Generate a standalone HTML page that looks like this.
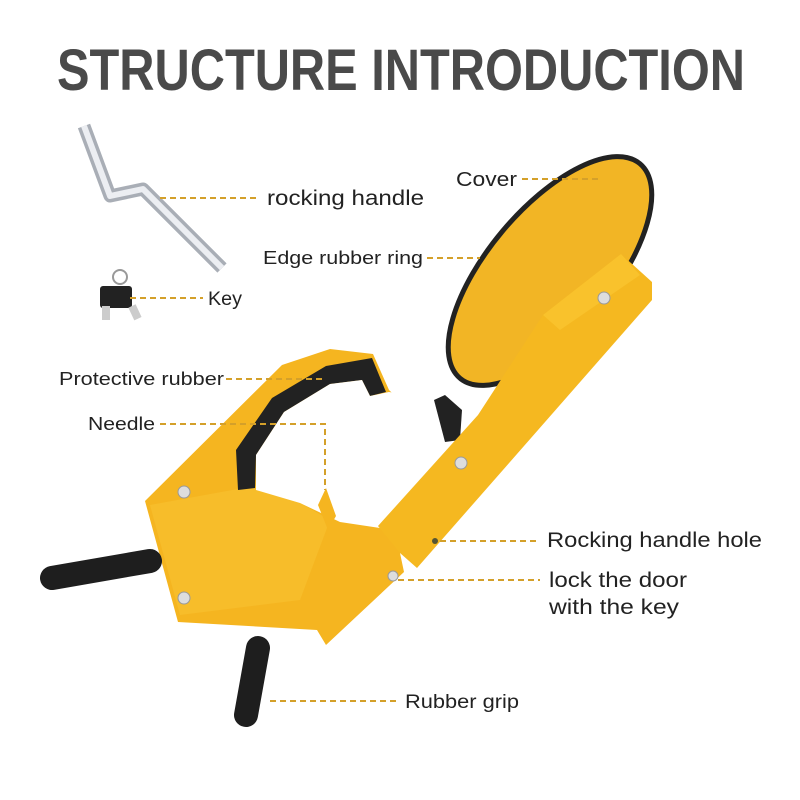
<!DOCTYPE html>
<html><head><meta charset="utf-8"><style>html,body{margin:0;padding:0;background:#fff}svg{display:block}</style></head>
<body>
<svg width="800" height="800" viewBox="0 0 800 800" xmlns="http://www.w3.org/2000/svg" font-family="Liberation Sans, sans-serif">
<rect width="800" height="800" fill="#fff"/>
<text x="57" y="90" font-size="58" font-weight="bold" fill="#4a4a4a" textLength="688" lengthAdjust="spacingAndGlyphs">STRUCTURE INTRODUCTION</text>

<!-- handle -->
<path d="M84 126 L110 196 L143 189 L222 268" fill="none" stroke="#a9aeb6" stroke-width="13" stroke-linejoin="round"/>
<path d="M84 126 L110 196 L143 189 L222 268" fill="none" stroke="#eceef2" stroke-width="6" stroke-linejoin="round"/>
<!-- keys -->
<circle cx="120" cy="277" r="7" fill="none" stroke="#999" stroke-width="2"/>
<rect x="100" y="286" width="32" height="22" rx="3" fill="#222"/>
<rect x="102" y="306" width="8" height="14" fill="#ccc"/>
<rect x="128" y="306" width="8" height="14" fill="#ccc" transform="rotate(-25 132 306)"/>

<!-- cover -->
<ellipse cx="550" cy="271" rx="62" ry="140" transform="rotate(40 550 271)" fill="#f2b525" stroke="#222" stroke-width="5"/>

<!-- clamp -->
<polygon points="145,501 282,365 330,349 373,354 389,390 420,420 400,553 404,572 326,645 317,630 178,622" fill="#f5b520"/>
<polygon points="150,505 260,485 300,503 330,520 300,600 180,615" fill="#f7bd2a"/>
<!-- black band -->
<polygon points="236,450 272,398 326,366 372,358 386,392 370,396 362,380 330,384 284,412 256,455 255,488 238,490" fill="#222"/>
<!-- hole -->
<polygon points="256,455 284,412 330,384 362,380 370,396 389,392 440,400 476,418 380,528 340,522 300,503 256,490" fill="#fff"/>
<!-- needle -->
<polygon points="318,505 326,488 336,516 328,530" fill="#f5b520"/>
<!-- small black part -->
<polygon points="434,400 445,395 462,410 460,440 445,442" fill="#222"/>
<!-- arm -->
<polygon points="378,526 478,415 543,315 621,254 652,282 652,300 417,568 400,553" fill="#f5b820"/>
<polygon points="543,315 621,254 640,275 560,330" fill="#f9c22c"/>

<!-- rivets -->
<g fill="#ddd" stroke="#999" stroke-width="1">
<circle cx="184" cy="492" r="6"/><circle cx="184" cy="598" r="6"/>
<circle cx="461" cy="463" r="6"/><circle cx="604" cy="298" r="6"/><circle cx="393" cy="576" r="5"/>
</g>
<circle cx="435" cy="541" r="3" fill="#553"/>

<!-- grips -->
<line x1="52" y1="578" x2="150" y2="561" stroke="#1e1e1e" stroke-width="24" stroke-linecap="round"/>
<line x1="258" y1="648" x2="246" y2="715" stroke="#1e1e1e" stroke-width="24" stroke-linecap="round"/>

<!-- leader lines -->
<g stroke="#d4a02a" stroke-width="2" stroke-dasharray="6,4" fill="none">
<line x1="160" y1="198" x2="260" y2="198"/>
<line x1="522" y1="179" x2="600" y2="179"/>
<line x1="427" y1="258" x2="480" y2="258"/>
<line x1="130" y1="298" x2="203" y2="298"/>
<line x1="226" y1="379" x2="325" y2="379"/>
<polyline points="160,424 325,424 325,490"/>
<line x1="440" y1="541" x2="540" y2="541"/>
<line x1="398" y1="580" x2="540" y2="580"/>
<line x1="270" y1="701" x2="400" y2="701"/>
</g>

<g fill="#222">
<text x="267" y="205" font-size="21" textLength="157" lengthAdjust="spacingAndGlyphs">rocking handle</text>
<text x="456" y="186" font-size="20" textLength="61" lengthAdjust="spacingAndGlyphs">Cover</text>
<text x="263" y="264" font-size="18" textLength="160" lengthAdjust="spacingAndGlyphs">Edge rubber ring</text>
<text x="208" y="305" font-size="19" textLength="34" lengthAdjust="spacingAndGlyphs">Key</text>
<text x="59" y="385" font-size="18" textLength="165" lengthAdjust="spacingAndGlyphs">Protective rubber</text>
<text x="88" y="430" font-size="18" textLength="67" lengthAdjust="spacingAndGlyphs">Needle</text>
<text x="547" y="547" font-size="21" textLength="215" lengthAdjust="spacingAndGlyphs">Rocking handle hole</text>
<text x="549" y="587" font-size="21" textLength="138" lengthAdjust="spacingAndGlyphs">lock the door</text>
<text x="549" y="614" font-size="21" textLength="130" lengthAdjust="spacingAndGlyphs">with the key</text>
<text x="405" y="708" font-size="19" textLength="114" lengthAdjust="spacingAndGlyphs">Rubber grip</text>
</g>
</svg>
</body></html>
